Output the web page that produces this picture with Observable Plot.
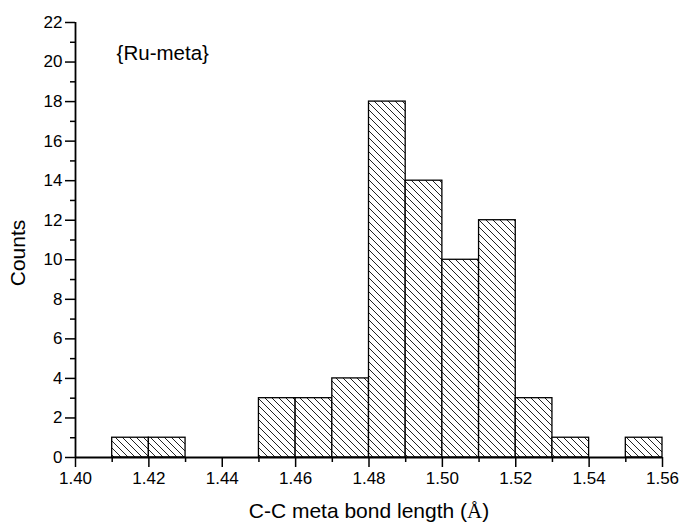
<!DOCTYPE html>
<html><head><meta charset="utf-8">
<script src="https://cdn.jsdelivr.net/npm/d3@7"></script>
<script src="https://cdn.jsdelivr.net/npm/@observablehq/plot@0.6"></script>
<style>body{margin:0;background:#fff;} svg{font-family:"Liberation Sans",Arial,sans-serif;}</style>
</head><body><div id="c"></div>
<script>
const binStart = [1.41, 1.42, 1.45, 1.46, 1.47, 1.48, 1.49, 1.50, 1.51, 1.52, 1.53, 1.55];
const counts   = [1, 1, 3, 3, 4, 18, 14, 10, 12, 3, 1, 1];
const binWidth = 0.01;
const xMajor = [1.40, 1.42, 1.44, 1.46, 1.48, 1.50, 1.52, 1.54, 1.56];
const xMinor = [1.41, 1.43, 1.45, 1.47, 1.49, 1.51, 1.53, 1.55];
const yMajor = [0, 2, 4, 6, 8, 10, 12, 14, 16, 18, 20, 22];
const yMinor = [1, 3, 5, 7, 9, 11, 13, 15, 17, 19, 21];
const annotation = "{Ru-meta}";
const xLabelText = "C-C meta bond length (";
const yLabelText = "Counts";

const data = binStart.map((s, i) => ({x1: s, x2: +(s + binWidth).toFixed(2), y: counts[i]}));

const chart = Plot.plot({
  width: 682, height: 522,
  marginLeft: 75, marginRight: 20, marginTop: 22, marginBottom: 65,
  style: {fontFamily: "Liberation Sans, Arial, sans-serif", fontSize: "17px", color: "#000", background: "#fff"},
  x: {domain: [1.40, 1.56]},
  y: {domain: [0, 22]},
  marks: [
    Plot.rectY(data, {x1: "x1", x2: "x2", y: "y", fill: "url(#hatch)", stroke: "#000", strokeWidth: 1.3}),
    Plot.axisX({ticks: xMajor, tickFormat: d => d.toFixed(2), tickSize: 10, tickPadding: 4, stroke: "#000", strokeWidth: 1.5, label: null}),
    Plot.axisX({ticks: xMinor, text: null, tickSize: 5, stroke: "#000", strokeWidth: 1.5, label: null}),
    Plot.axisY({ticks: yMajor, tickSize: 10, tickPadding: 3, stroke: "#000", strokeWidth: 1.5, label: null}),
    Plot.axisY({ticks: yMinor, text: null, tickSize: 5, stroke: "#000", strokeWidth: 1.5, label: null}),
    Plot.ruleY([0], {stroke: "#000", strokeWidth: 1.8}),
    Plot.ruleX([1.40], {stroke: "#000", strokeWidth: 1.8}),
    Plot.text([annotation], {x: 1.4112, y: 20.45, text: d => d, textAnchor: "start", fontSize: 20.5, fill: "#000"})
  ]
});

const svg = d3.select(chart);
svg.insert("defs", ":first-child").html(
  '<pattern id="hatch" patternUnits="userSpaceOnUse" width="7" height="7">' +
  '<rect width="7" height="7" fill="#fff"/>' +
  '<path d="M0,0 L7,7 M-1,6 L1,8 M6,-1 L8,1" stroke="#222" stroke-width="1"/>' +
  '</pattern>'
);
// axis titles
const xl = svg.append("text")
  .attr("x", 369).attr("y", 518).attr("text-anchor", "middle")
  .attr("font-size", 21).attr("fill", "#000");
xl.append("tspan").text(xLabelText);
xl.append("tspan").attr("font-family", "Liberation Serif, Times New Roman, serif").text("Å");
xl.append("tspan").text(")");
svg.append("text")
  .attr("transform", "translate(25,253) rotate(-90)")
  .attr("text-anchor", "middle").attr("font-size", 21).attr("fill", "#000")
  .text(yLabelText);

document.getElementById("c").appendChild(chart);
</script></body></html>
